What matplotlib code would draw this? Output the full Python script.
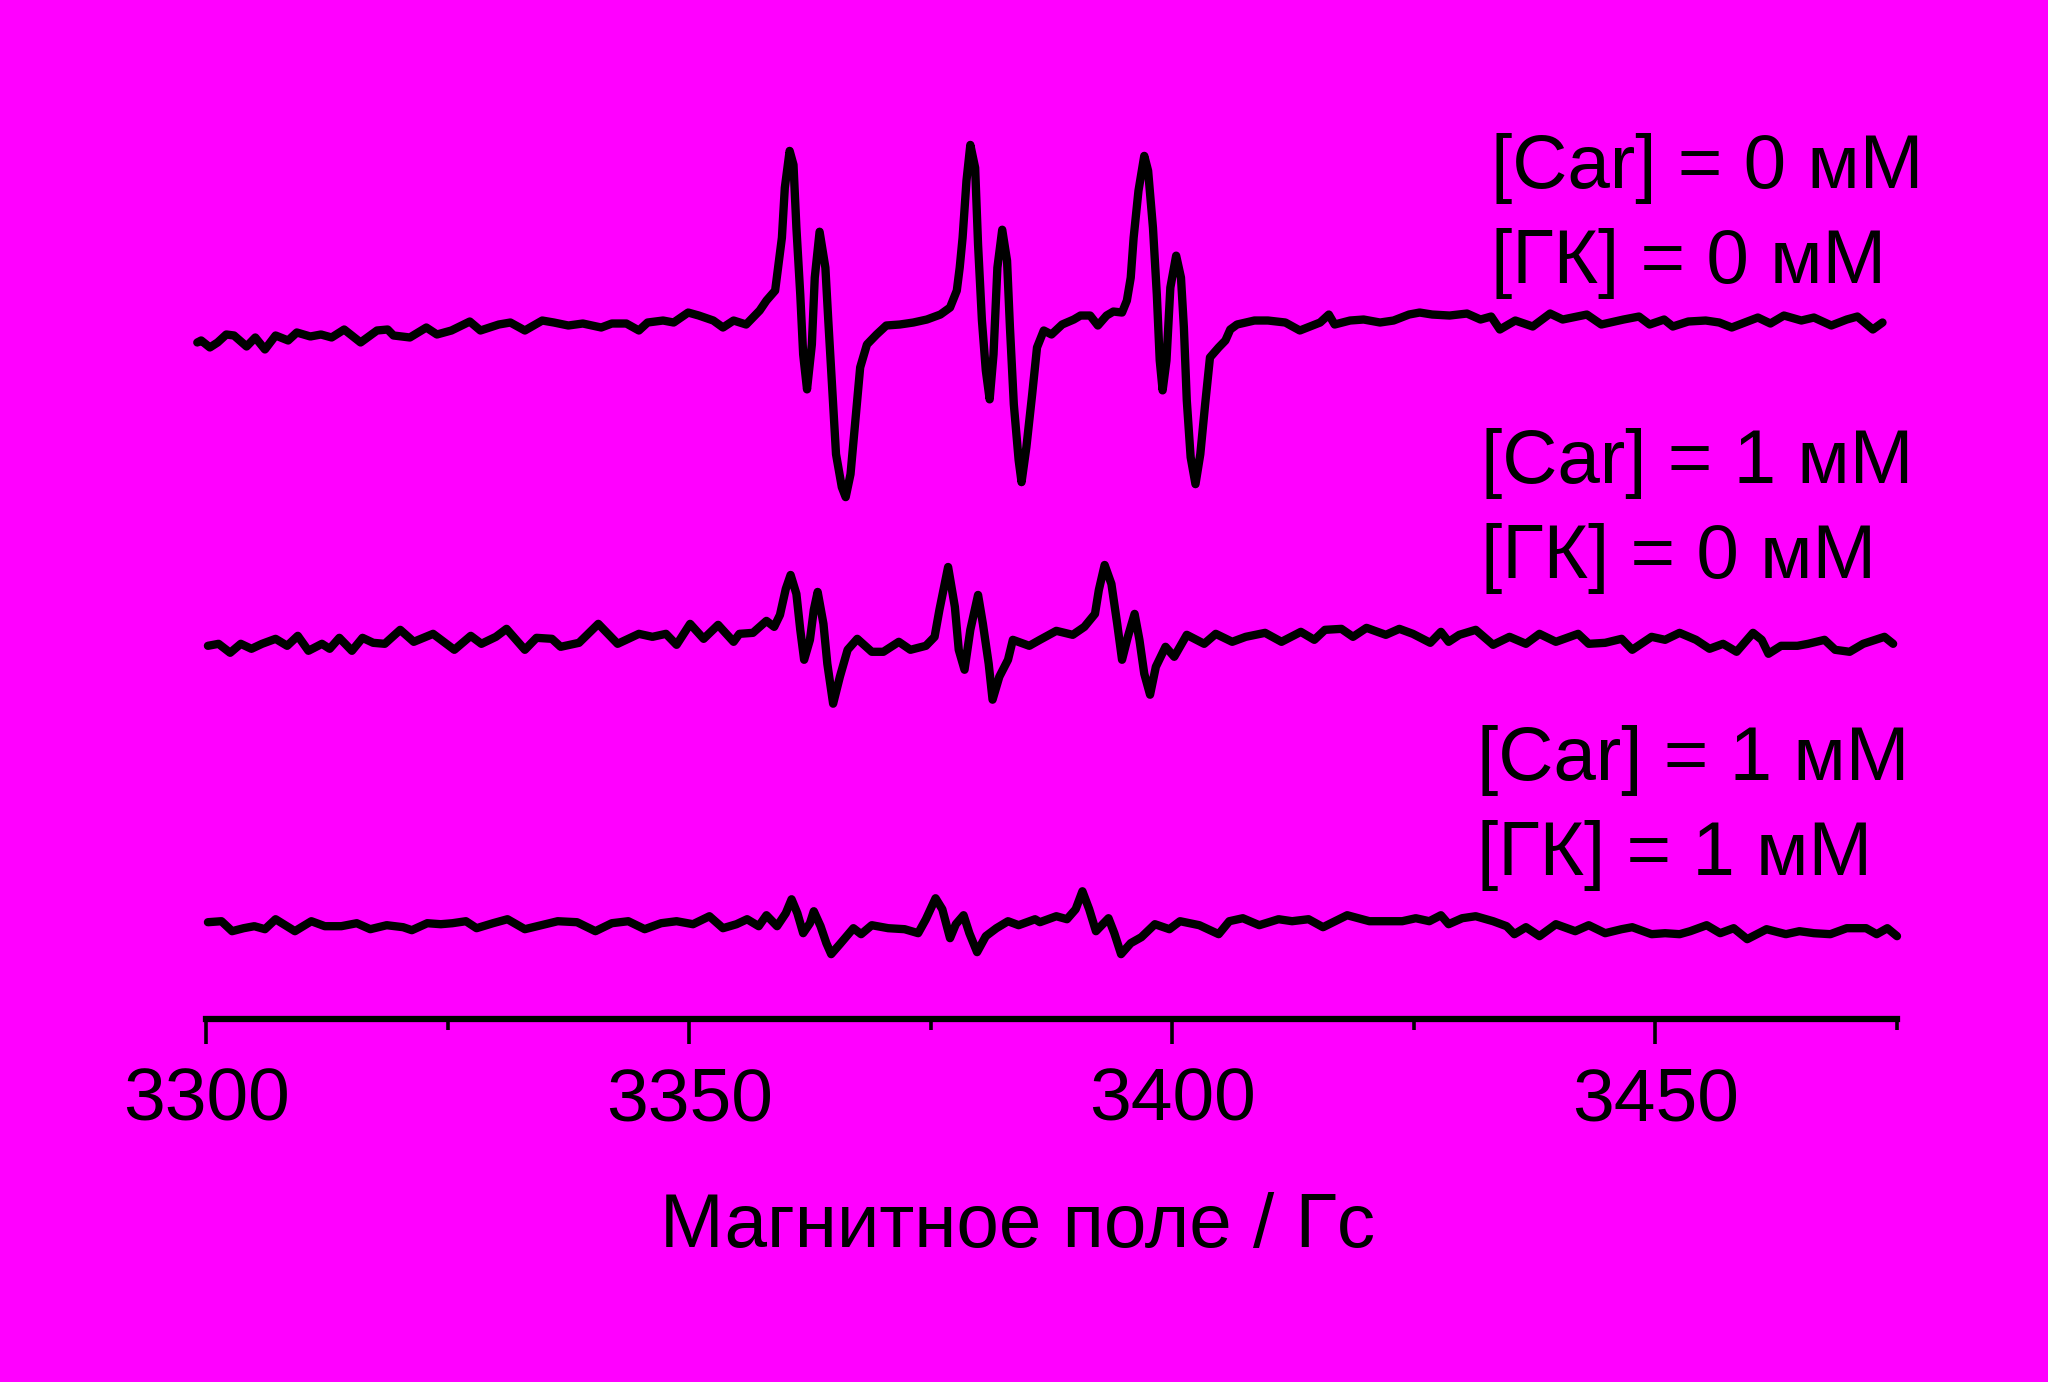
import matplotlib
matplotlib.use("Agg")
import matplotlib.pyplot as plt
from matplotlib.ticker import MultipleLocator

# ---------------- data (field in Gauss, signal in arbitrary units) ----------------
field1 = [3299.1, 3299.5, 3300.4, 3301.2, 3302.1, 3302.9, 3304.2, 3305.1, 3306.1, 3307.2,
          3308.5, 3309.4, 3310.8, 3311.9, 3313.0, 3314.3, 3316.0, 3317.7, 3318.8, 3319.4,
          3321.1, 3322.8, 3323.9, 3325.4, 3327.3, 3328.4, 3330.3, 3331.5, 3333.0, 3334.8,
          3336.0, 3337.5, 3339.0, 3340.9, 3342.0, 3343.5, 3344.8, 3345.7, 3347.3, 3348.4,
          3349.9, 3351.0, 3352.5, 3353.5, 3354.6, 3355.9, 3357.3, 3358.0, 3358.9, 3359.2,
          3359.6, 3359.9, 3360.4, 3360.8, 3361.1, 3361.5, 3361.8, 3362.2, 3362.7, 3363.0,
          3363.5, 3364.1, 3364.4, 3364.8, 3365.2, 3365.8, 3366.2, 3366.7, 3367.2, 3367.7,
          3368.4, 3369.4, 3370.4, 3371.8, 3373.2, 3374.6, 3376.0, 3377.0, 3377.7, 3378.0,
          3378.3, 3378.7, 3379.1, 3379.6, 3379.9, 3380.3, 3380.7, 3381.1, 3381.5, 3381.9,
          3382.4, 3382.9, 3383.2, 3383.6, 3384.1, 3384.4, 3384.9, 3385.5, 3386.0, 3386.7,
          3387.5, 3388.6, 3389.8, 3390.5, 3391.5, 3392.3, 3393.2, 3393.9, 3394.8, 3395.3,
          3395.7, 3396.0, 3396.5, 3397.1, 3397.5, 3398.0, 3398.4, 3398.7, 3399.0, 3399.4,
          3399.8, 3400.4, 3400.9, 3401.2, 3401.5, 3401.9, 3402.4, 3402.9, 3403.4, 3403.9,
          3404.8, 3405.5, 3406.0, 3406.7, 3408.5, 3409.9, 3411.7, 3413.2, 3415.3, 3416.2,
          3416.8, 3418.4, 3419.8, 3421.5, 3422.9, 3424.5, 3425.6, 3426.9, 3428.7, 3430.5,
          3431.9, 3433.0, 3433.9, 3435.5, 3437.3, 3439.1, 3440.4, 3442.9, 3444.4, 3446.7,
          3448.3, 3449.4, 3450.9, 3451.8, 3453.4, 3455.2, 3456.6, 3457.9, 3460.6, 3461.9,
          3463.3, 3465.1, 3466.4, 3468.2, 3469.8, 3470.9, 3472.5, 3473.5]
signal1 = [-20, -18, -25, -20, -12, -13, -24, -15, -27, -13,
           -18, -10, -14, -12, -15, -7, -20, -8, -7, -13,
           -15, -5, -12, -8, 1, -8, -2, 0, -8, 2,
           0, -3, -1, -5, -1, -1, -8, 0, 2, 0,
           10, 7, 2, -5, 2, -2, 12, 22, 32, 55,
           85, 135, 172, 158, 95, 28, -32, -67, -22, 45,
           91, 55, 2, -65, -132, -165, -175, -152, -98, -45,
           -22, -12, -3, -2, 0, 3, 8, 15, 32, 55,
           85, 142, 178, 155, 78, 2, -48, -77, -32, 55,
           93, 62, -5, -82, -138, -160, -125, -72, -25, -8,
           -12, -2, 3, 7, 7, -3, 7, 11, 10, 22,
           45, 85, 132, 167, 152, 95, 28, -38, -68, -38,
           35, 67, 45, -5, -78, -135, -162, -132, -82, -35,
           -25, -18, -7, -2, 2, 2, 0, -8, 0, 8,
           -2, 2, 3, 0, 2, 8, 10, 8, 7, 9,
           3, 6, -7, 2, -4, 9, 3, 8, -2, 3,
           6, -2, 3, -4, 1, 2, 0, -5, 5, -1,
           7, 2, 5, -3, 3, 6, -7, 0]

field2 = [3300.2, 3301.3, 3302.5, 3303.6, 3304.7, 3305.8, 3307.2, 3308.4, 3309.5, 3310.6,
          3312.0, 3312.8, 3313.8, 3315.1, 3316.2, 3317.3, 3318.5, 3320.1, 3321.5, 3323.5,
          3325.7, 3327.4, 3328.5, 3330.0, 3331.1, 3333.0, 3334.2, 3335.8, 3336.7, 3338.6,
          3340.6, 3342.6, 3344.8, 3346.2, 3347.6, 3348.7, 3350.1, 3351.5, 3353.0, 3354.6,
          3355.2, 3356.6, 3358.0, 3358.8, 3359.4, 3360.0, 3360.5, 3361.1, 3361.5, 3361.9,
          3362.5, 3362.9, 3363.3, 3363.9, 3364.3, 3364.9, 3365.6, 3366.4, 3367.4, 3368.9,
          3370.1, 3371.7, 3372.9, 3374.5, 3375.4, 3375.9, 3376.8, 3377.5, 3377.9, 3378.5,
          3379.1, 3379.9, 3380.4, 3381.0, 3381.4, 3382.1, 3383.0, 3383.5, 3385.2, 3386.3,
          3388.0, 3389.7, 3390.9, 3392.0, 3392.4, 3393.0, 3393.7, 3394.3, 3394.8, 3395.4,
          3396.1, 3396.6, 3397.1, 3397.7, 3398.3, 3399.3, 3400.2, 3401.5, 3403.3, 3404.5,
          3406.2, 3407.6, 3409.6, 3411.3, 3413.3, 3414.7, 3415.8, 3417.5, 3418.7, 3420.1,
          3422.1, 3423.5, 3424.9, 3426.7, 3427.8, 3428.6, 3429.7, 3431.4, 3433.2, 3434.9,
          3436.6, 3438.0, 3439.7, 3442.0, 3443.1, 3444.8, 3446.5, 3447.6, 3449.6, 3451.0,
          3452.5, 3454.2, 3455.6, 3457.0, 3458.4, 3460.1, 3461.0, 3461.7, 3463.0, 3464.7,
          3465.8, 3467.5, 3468.6, 3470.1, 3471.5, 3473.7, 3474.6]
signal2 = [-4, -2, -11, -2, -7, -2, 3, -4, 6, -9,
           -2, -7, 4, -9, 4, -1, -2, 12, 0, 8,
           -8, 6, -2, 5, 13, -8, 4, 3, -5, -1,
           18, -2, 8, 5, 8, -3, 18, 3, 17, 0,
           8, 9, 21, 15, 27, 53, 67, 48, 12, -18,
           2, 32, 50, 18, -22, -62, -35, -8, 3, -10,
           -10, 0, -8, -4, 5, 32, 75, 35, -8, -28,
           12, 47, 18, -22, -58, -35, -18, 2, -4, 2,
           11, 7, 15, 28, 52, 77, 58, 18, -18, 5,
           28, 2, -32, -53, -25, -5, -15, 7, -2, 8,
           0, 5, 9, 0, 10, 2, 12, 13, 5, 14,
           7, 13, 8, -1, 10, 0, 7, 12, -3, 5,
           -2, 8, 0, 8, -2, -1, 3, -8, 5, 2,
           9, 2, -7, -2, -10, 9, 2, -12, -4, -4,
           -2, 2, -8, -10, -2, 5, -2]

field3 = [3300.2, 3301.6, 3302.7, 3303.9, 3305.0, 3306.1, 3307.2, 3309.2, 3310.9, 3312.3,
          3314.0, 3315.6, 3317.0, 3318.7, 3320.4, 3321.3, 3322.9, 3324.3, 3325.5, 3326.9,
          3328.0, 3329.7, 3331.2, 3333.0, 3334.7, 3336.4, 3338.4, 3340.3, 3342.0, 3343.7,
          3345.4, 3347.1, 3348.7, 3350.4, 3352.1, 3353.5, 3354.9, 3356.0, 3357.2, 3358.0,
          3359.1, 3360.0, 3360.6, 3361.2, 3361.8, 3362.5, 3362.9, 3363.6, 3364.2, 3364.7,
          3365.6, 3367.0, 3367.8, 3368.9, 3370.6, 3372.3, 3373.7, 3374.5, 3375.5, 3376.2,
          3377.0, 3377.6, 3378.4, 3379.0, 3379.8, 3380.7, 3381.8, 3383.0, 3384.1, 3385.8,
          3386.3, 3388.0, 3389.1, 3390.0, 3390.7, 3391.4, 3392.1, 3392.8, 3393.4, 3394.0,
          3394.7, 3395.7, 3396.8, 3398.2, 3399.7, 3400.8, 3402.8, 3404.8, 3405.9, 3407.3,
          3409.0, 3411.0, 3412.4, 3414.1, 3415.6, 3418.1, 3420.4, 3422.1, 3423.8, 3425.2,
          3426.6, 3427.8, 3428.6, 3430.0, 3431.4, 3433.2, 3434.6, 3435.4, 3436.6, 3438.0,
          3439.7, 3441.7, 3443.1, 3444.8, 3446.5, 3447.6, 3449.6, 3451.0, 3452.5, 3453.6,
          3455.3, 3456.7, 3458.1, 3459.5, 3461.5, 3463.5, 3464.9, 3466.4, 3468.1, 3469.8,
          3471.8, 3472.9, 3474.0, 3475.0]
signal3 = [2, 3, -7, -4, -2, -5, 5, -7, 3, -2,
           -2, 1, -5, -1, -3, -6, 1, 0, 1, 3,
           -4, 1, 5, -5, -1, 3, 2, -7, 1, 3,
           -5, 1, 3, 0, 8, -4, 0, 5, -2, 9,
           -2, 11, 25, 11, -9, 1, 13, -2, -19, -30,
           -20, -4, -10, -1, -4, -5, -9, 5, 26, 15,
           -14, 0, 9, -9, -28, -12, -4, 3, -1, 5,
           2, 8, 5, 15, 33, 15, -7, 0, 6, -9,
           -30, -19, -13, 0, -5, 3, -1, -10, 3, 6,
           -1, 5, 3, 5, -3, 9, 3, 3, 3, 6,
           3, 9, 0, 6, 8, 3, -2, -10, -3, -12,
           0, -7, -1, -9, -5, -3, -10, -9, -10, -7,
           -1, -9, -4, -15, -5, -10, -7, -9, -10, -4,
           -4, -10, -4, -12]

offsets = [696, 376, 93]

xticks_major = [3300, 3350, 3400, 3450]
xlim = (3300, 3475)

labels_car = ["[Car] = 0 мМ", "[Car] = 1 мМ", "[Car] = 1 мМ"]
labels_gk = ["[ГК] = 0 мМ", "[ГК] = 0 мМ", "[ГК] = 1 мМ"]
xlabel = "Магнитное поле / Гс"

# ---------------- figure ----------------
BG = "#FF00FF"
plt.rcParams['font.family'] = ['Liberation Sans', 'DejaVu Sans']

W, H = 2048, 1382
fig = plt.figure(figsize=(W / 100, H / 100), dpi=100, facecolor=BG)
ax_left, ax_right = 206 / W, 1897 / W
ax_bottom = (H - 1019) / H
ax_top = (H - 100) / H
ax = fig.add_axes([ax_left, ax_bottom, ax_right - ax_left, ax_top - ax_bottom])
ax.set_facecolor(BG)

for f, s, off in zip([field1, field2, field3], [signal1, signal2, signal3], offsets):
    ax.plot(f, [v + off for v in s], color="black", lw=6.0,
            solid_joinstyle="round", solid_capstyle="round", clip_on=False)

ax.set_xlim(*xlim)
ax.set_ylim(-2, 919)
for side in ("top", "right", "left"):
    ax.spines[side].set_visible(False)
ax.spines["bottom"].set_linewidth(4.5)
ax.set_yticks([])
ax.set_xticks(xticks_major)
ax.xaxis.set_minor_locator(MultipleLocator(25))
ax.tick_params(axis="x", which="major", direction="out", length=18, width=2.6,
               labelsize=54, pad=16, colors="black")
ax.tick_params(axis="x", which="minor", direction="out", length=8, width=2.6)

# annotations
car_pos = [(1491, 188), (1481, 483), (1477, 780)]
gk_pos = [(1491, 283), (1481, 578), (1477, 875)]
for (x, y), t in zip(car_pos, labels_car):
    fig.text(x / W, (H - y) / H, t, fontsize=55, ha="left", va="baseline")
for (x, y), t in zip(gk_pos, labels_gk):
    fig.text(x / W, (H - y) / H, t, fontsize=55, ha="left", va="baseline")

fig.text(1018 / W, (H - 1247) / H, xlabel, fontsize=55, ha="center", va="baseline")

fig.savefig("out.png", dpi=100, facecolor=BG)
